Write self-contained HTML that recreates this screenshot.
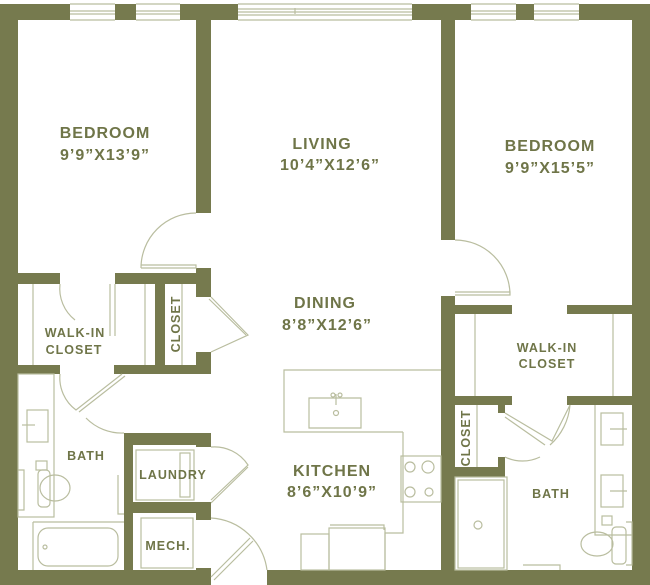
<!DOCTYPE html>
<html><head><meta charset="utf-8"><style>
html,body{margin:0;padding:0;background:#fff;width:650px;height:585px;overflow:hidden}
svg{display:block}
text{font-family:"Liberation Sans",sans-serif;font-weight:bold;fill:#6f7548;text-anchor:middle;letter-spacing:1px}
.l{fill:none;stroke:#b9bd9f;stroke-width:1.2}
.w{fill:#767a4e}
</style></head><body>
<svg width="650" height="585" viewBox="0 0 650 585">
<g class="w">
<rect x="0" y="4" width="70" height="16"/><rect x="115" y="4" width="21" height="16"/><rect x="180" y="4" width="58" height="16"/>
<rect x="412" y="4" width="59" height="16"/><rect x="516" y="4" width="18" height="16"/><rect x="579" y="4" width="71" height="16"/>
<rect x="0" y="4" width="18" height="581"/><rect x="632" y="4" width="18" height="581"/>
<rect x="0" y="570" width="211" height="15"/><rect x="267" y="570" width="383" height="15"/>
<rect x="196" y="20" width="15" height="193"/><rect x="196" y="268" width="15" height="29"/>
<rect x="18" y="273" width="42" height="11"/><rect x="115" y="273" width="96" height="11"/>
<rect x="155" y="273" width="10" height="101"/>
<rect x="196" y="352" width="15" height="22"/>
<rect x="18" y="365" width="42" height="9"/><rect x="114" y="365" width="97" height="9"/>
<rect x="124" y="433" width="9" height="137"/><rect x="124" y="433" width="87" height="12"/>
<rect x="196" y="433" width="15" height="14"/><rect x="124" y="502" width="87" height="11"/>
<rect x="196" y="502" width="15" height="18"/><rect x="196" y="568" width="15" height="17"/>
<rect x="441" y="20" width="14" height="220"/><rect x="441" y="296" width="14" height="289"/>
<rect x="455" y="305" width="57" height="9"/><rect x="567" y="305" width="65" height="9"/>
<rect x="455" y="396" width="57" height="9"/><rect x="567" y="396" width="65" height="9"/>
<rect x="455" y="467" width="50" height="10"/><rect x="498" y="405" width="7" height="8"/><rect x="498" y="457" width="7" height="20"/>
</g>
<g class="l">
<path d="M70 4H115M70 11H115M70 14H115M70 20H115M136 4H180M136 11H180M136 14H180M136 20H180"/>
<path d="M238 4H412M238 9H412M238 12H412M238 15H412M238 20H412M295 8V14"/>
<path d="M471 4H516M471 11H516M471 14H516M471 20H516M534 4H579M534 11H579M534 14H579M534 20H579"/>
<path d="M196 213A55 55 0 0 0 141 268M141 265H196V268H141"/>
<path d="M455 240A55 55 0 0 1 510 295M455 292H510V295H455"/>
<path d="M60 284A40 40 0 0 0 75 320M115 284V336M110 284V336"/>
<path d="M211 297L248 335L211 352M209 299L246 335"/>
<path d="M60 374A40 40 0 0 0 76 410L122 374M79 412L125 376M86 418A50 50 0 0 0 124 433"/>
<path d="M211 447A40 40 0 0 1 248 465L211 500M211 503L248 467"/>
<path d="M211 518A60 60 0 0 1 267 570M211 577L250 538M214 580L253 541"/>
<path d="M505 413L552 441L570 405A60 60 0 0 1 550 445M505 417L545 445M540 457A40 40 0 0 1 505 457"/>
<path d="M33 284V365M145 284V365M182 284V365M475 314V396M613 314V396M477 405V467"/>
<rect x="18" y="374" width="36" height="143"/><rect x="27" y="410" width="21" height="32"/><path d="M22 425H35"/>
<rect x="36" y="461" width="11" height="9"/>
<path d="M18 470H24V510H18"/><ellipse cx="55" cy="488" rx="15" ry="13"/><rect x="38" y="470" width="12" height="37" rx="4"/>
<path d="M118 475V514H124"/>
<path d="M33 522H124M33 522V570"/><rect x="38" y="528" width="80" height="38" rx="10"/><circle cx="45" cy="547" r="2"/>
<rect x="136" y="450" width="58" height="50"/><rect x="180" y="453" width="10" height="44"/>
<rect x="141" y="518" width="52" height="50"/>
<path d="M403 432H284V370H441M403 432V533H385V570M309 398H361V428H309Z"/>
<circle cx="333" cy="395" r="2"/><circle cx="340" cy="395" r="2"/><path d="M336 394V405"/><circle cx="336" cy="413" r="2.5"/>
<rect x="401" y="456" width="40" height="46"/><circle cx="410" cy="467" r="5"/><circle cx="428" cy="467" r="6"/><circle cx="410" cy="492" r="5"/><circle cx="429" cy="492" r="4"/>
<rect x="329" y="528" width="56" height="42"/><path d="M330 525H384V530"/>
<rect x="301" y="534" width="28" height="36"/>
<rect x="455" y="477" width="52" height="93"/><rect x="458" y="480" width="46" height="88"/><circle cx="478" cy="525" r="4"/>
<path d="M595 405V535H632"/><rect x="601" y="413" width="22" height="32"/><rect x="601" y="475" width="22" height="32"/>
<path d="M610 429H627M610 491H627"/><rect x="602" y="516" width="10" height="9"/>
<ellipse cx="597" cy="544" rx="16" ry="12"/><rect x="612" y="527" width="14" height="37" rx="4"/><path d="M626 522H632V565H626"/>
<path d="M523 565H560V570"/>
</g>
<text x="105" y="138" font-size="16">BEDROOM</text><text x="105" y="160" font-size="16">9’9”X13’9”</text>
<text x="322" y="149" font-size="16">LIVING</text><text x="330" y="170" font-size="16">10’4”X12’6”</text>
<text x="550" y="151" font-size="16">BEDROOM</text><text x="550" y="173" font-size="16">9’9”X15’5”</text>
<text x="325" y="308" font-size="16">DINING</text><text x="327" y="330" font-size="16">8’8”X12’6”</text>
<text x="332" y="476" font-size="16">KITCHEN</text><text x="332" y="497" font-size="16">8’6”X10’9”</text>
<text x="75" y="337" font-size="12.5">WALK-IN</text><text x="74" y="354" font-size="12.5">CLOSET</text>
<text x="547" y="352" font-size="12.5">WALK-IN</text><text x="547" y="368" font-size="12.5">CLOSET</text>
<text x="86" y="460" font-size="12.5">BATH</text><text x="551" y="498" font-size="12.5">BATH</text>
<text x="173" y="479" font-size="12.5">LAUNDRY</text><text x="168" y="550" font-size="12.5">MECH.</text>
<text font-size="12.5" transform="translate(180 324) rotate(-90)">CLOSET</text>
<text font-size="12.5" transform="translate(470 438) rotate(-90)">CLOSET</text>
</svg>
</body></html>
